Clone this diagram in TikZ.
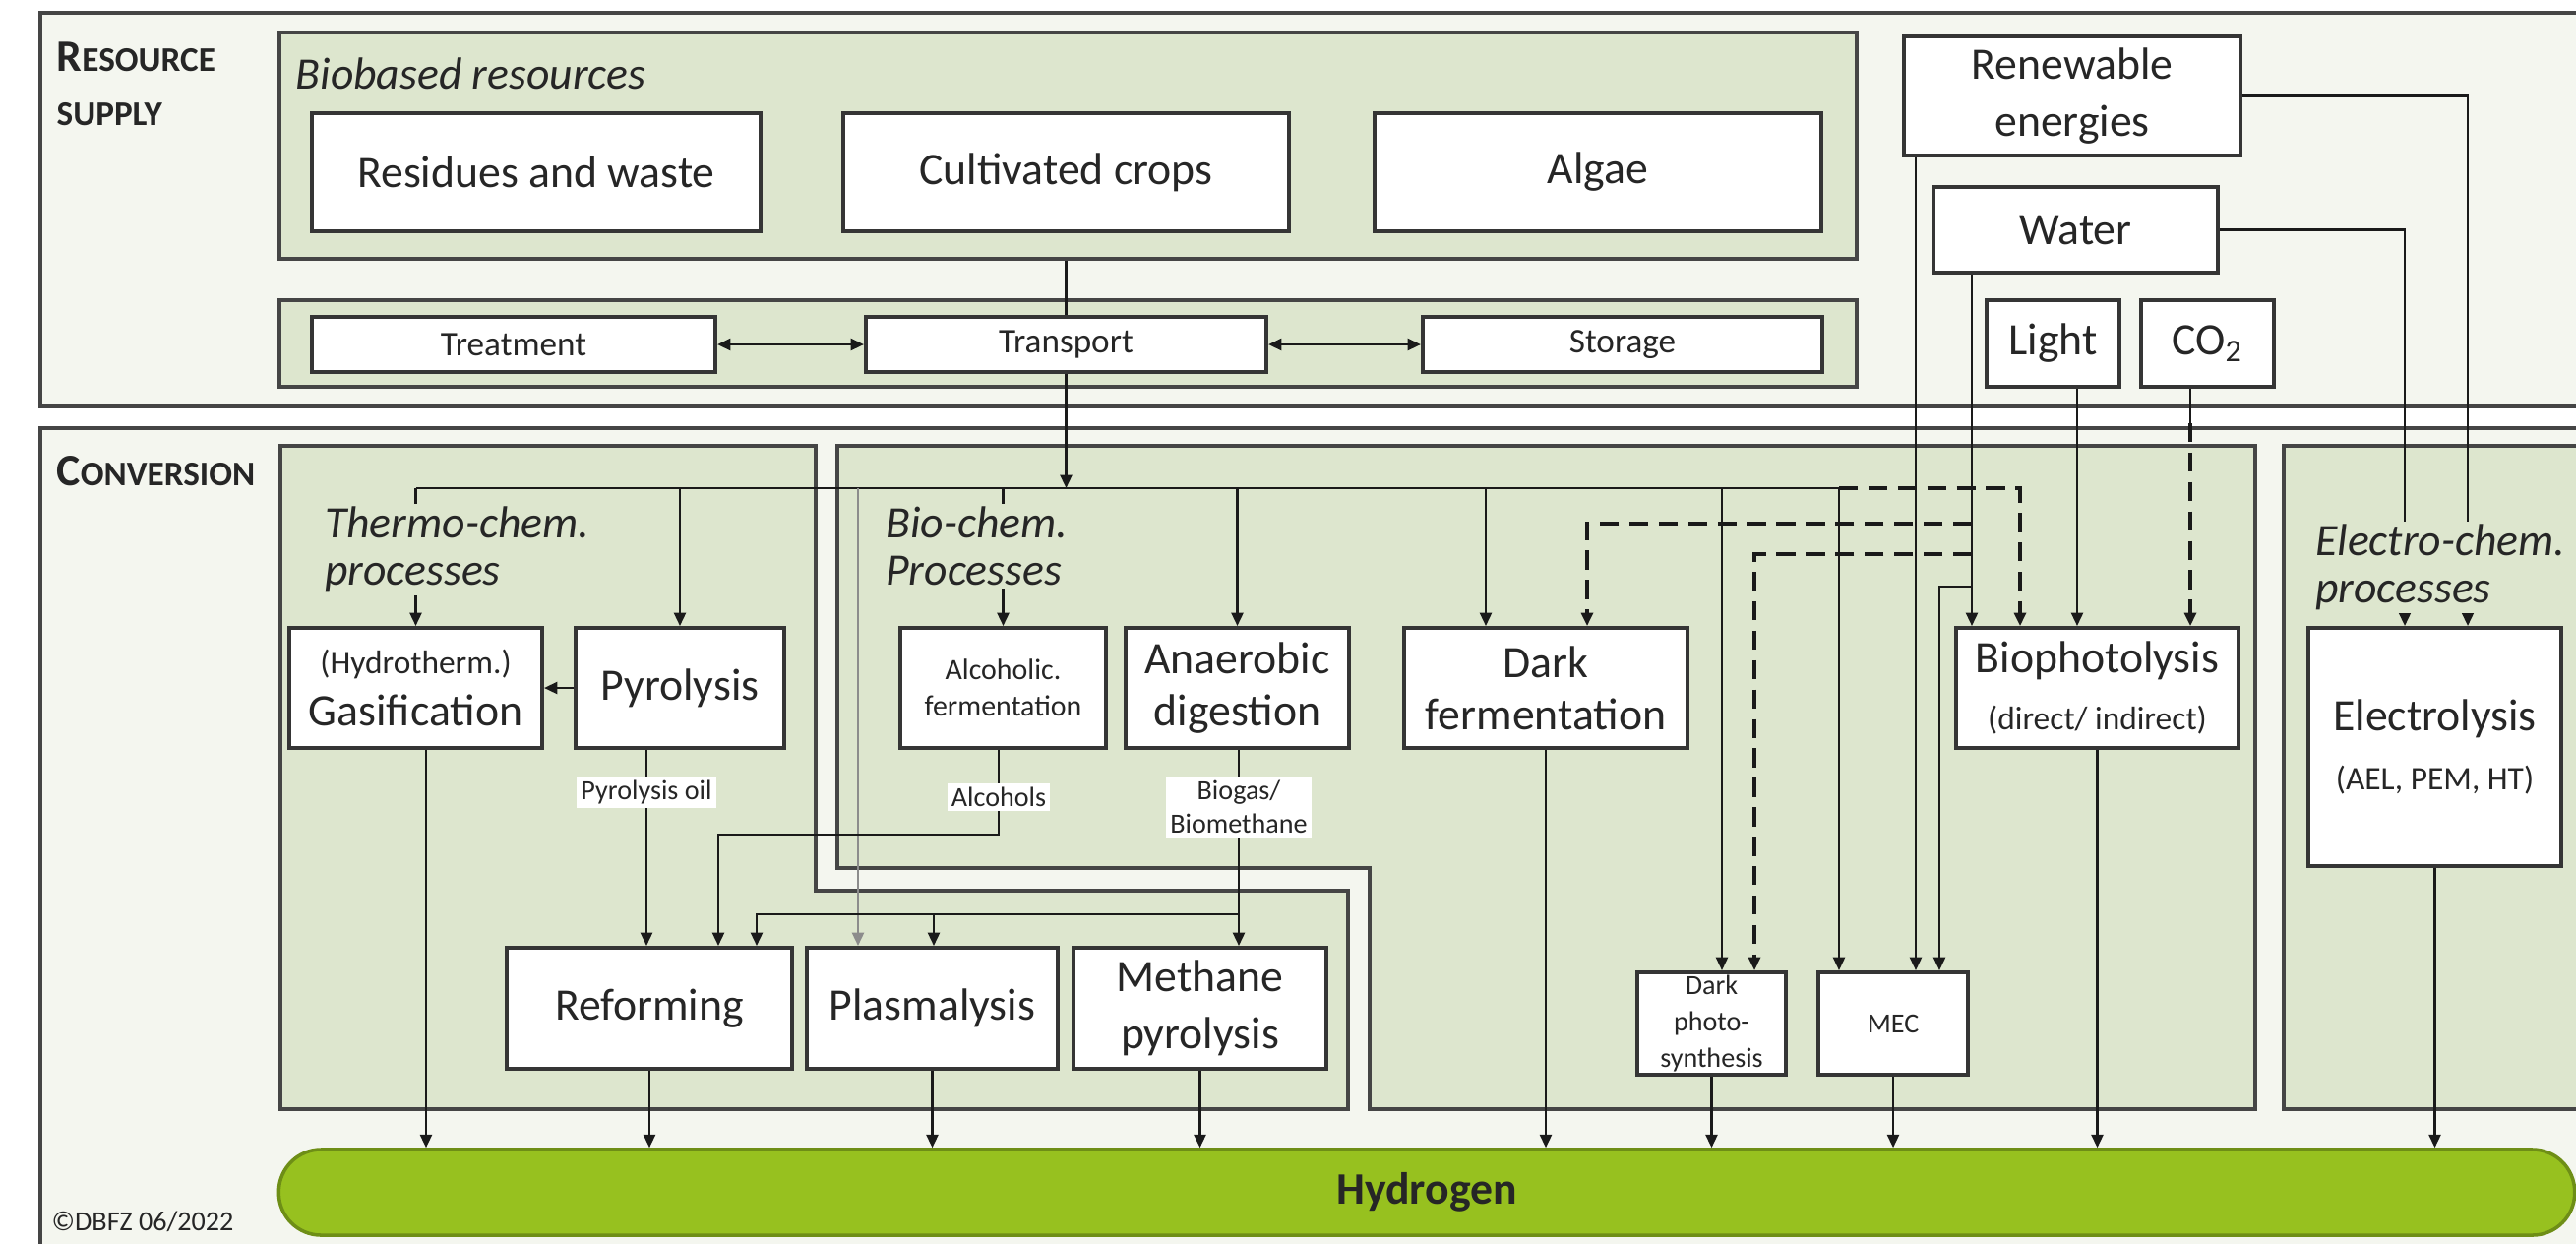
\documentclass[tikz,border=0pt]{standalone}
\usepackage{fontspec}
\setmainfont{Carlito}
\usetikzlibrary{arrows.meta,fit}
\definecolor{grpgreen}{HTML}{DDE6CE}
\definecolor{outerfill}{HTML}{F4F6EF}
\definecolor{boxborder}{HTML}{353535}
\definecolor{grpborder}{HTML}{454545}
\definecolor{linecol}{HTML}{1A1A1A}
\definecolor{graylinecol}{HTML}{8C8C8C}
\definecolor{htwo}{HTML}{97C11F}
\definecolor{htwoborder}{HTML}{6E8E16}
\definecolor{txt}{HTML}{262626}
\newcommand{\fsz}[2]{\fontsize{#1}{#2}\selectfont}
\begin{document}
\begin{tikzpicture}[x=0.01cm, y=-0.01cm, font=\fsz{13}{15}, text=txt,
  box/.style={draw=boxborder, line width=1.1pt, fill=white, inner sep=0pt, align=center, font=\fsz{13}{15}},
  sz/.style 2 args={minimum width=#1cm, minimum height=#2cm},
  grp/.style={draw=grpborder, line width=1pt, fill=grpgreen, inner sep=0pt},
  outerbox/.style={draw=grpborder, line width=1pt, fill=outerfill},
  conn/.style={draw=linecol, line width=0.7pt},
  arr/.style={conn, -{Triangle[length=3.8pt,width=3.4pt]}},
  dbl/.style={conn, {Triangle[length=3.8pt,width=3.4pt]}-{Triangle[length=3.8pt,width=3.4pt]}},
  dsh/.style={line width=0.9pt, dash pattern=on 5.5pt off 3pt},
  lbl/.style={fill=white, inner sep=1.2pt, font=\fsz{8}{9.5}, align=center},
  grplbl/.style={fill=grpgreen, inner sep=1pt, font=\itshape\fsz{13}{13.5}, align=left, anchor=north west},
  head/.style={anchor=base west, inner sep=0pt}]
\clip (0,0) rectangle (2618,1263);
\fill[white] (0,0) rectangle (2618,1263);
% outer frames
\draw[outerbox] (41,13) rectangle (2660,413);
\draw[outerbox] (41,435) rectangle (2660,1300);
% group containers
\node[grp, fit={(284,33)(1887,263)}] (biobased) {};
\node[grp, fit={(284,305)(1887,393)}] (band) {};
\draw[grp] (285,453) -- (829,453) -- (829,905) -- (1370,905) -- (1370,1127) -- (285,1127) -- cycle;
\draw[grp] (851,453) -- (2292,453) -- (2292,1127) -- (1392,1127) -- (1392,882) -- (851,882) -- cycle;
\draw[grp] (2321,453) rectangle (2660,1127);
% headings
\node[head, font=\bfseries] (rsA) at (57,72) {{\fsz{13}{15}R}{\fsz{10}{12}ESOURCE}};
\node[head, font=\bfseries\fsz{10}{12}] (rsB) at (57,127) {SUPPLY};
\node[head, font=\bfseries] (cv) at (57,493) {{\fsz{13}{15}C}{\fsz{10}{12}ONVERSION}};
\node[head, font=\itshape\fsz{13}{15}] (bbl) at (300,90) {Biobased resources};
\node[head, font=\fsz{8}{10}] (copy) at (52,1250) {©DBFZ 06/2022};
% resource boxes
\node[box, sz={4.56}{1.20}] (res) at (545,175) {Residues and waste};
\node[box, sz={4.53}{1.20}] (crops) at (1083.5,175) {Cultivated crops};
\node[box, sz={4.54}{1.20}] (algae) at (1624,175) {Algae};
\node[box, sz={4.10}{0.56}, font=\fsz{10}{12}] (treat) at (522,350) {Treatment};
\node[box, sz={4.07}{0.56}, font=\fsz{10}{12}] (transport) at (1083.5,350) {Transport};
\node[box, sz={4.06}{0.56}, font=\fsz{10}{12}] (storage) at (1649,350) {Storage};
\node[box, sz={3.42}{1.21}, font=\fsz{13}{16.5}] (ren) at (2106,97.5) {Renewable\\energies};
\node[box, sz={2.89}{0.87}] (water) at (2109.5,233.5) {Water};
\node[box, sz={1.35}{0.88}] (light) at (2086.5,349) {Light};
\node[box, sz={1.35}{0.88}] (co2) at (2243.5,349) {CO\textsubscript{2}};
% conversion boxes
\node[box, sz={2.57}{1.22}] (gas) at (422.5,699) {{\fsz{9.5}{11}(Hydrotherm.)}\\Gasification};
\node[box, sz={2.12}{1.22}] (pyro) at (691,699) {Pyrolysis};
\node[box, sz={2.09}{1.22}, font=\fsz{8.5}{10.5}] (alc) at (1019.5,699) {Alcoholic.\\fermentation};
\node[box, sz={2.27}{1.22}] (anaer) at (1257.5,699) {Anaerobic\\digestion};
\node[box, sz={2.88}{1.22}] (dferm) at (1571,699) {Dark\\fermentation};
\node[box, sz={2.87}{1.22}] (bioph) at (2131.5,699) {Biophotolysis\\[1.5pt]{\fsz{9.5}{11}(direct/ indirect)}};
\node[box, sz={2.57}{2.42}] (elec) at (2474.5,759) {Electrolysis\\[2pt]{\fsz{9.5}{11}(AEL, PEM, HT)}};
\node[box, sz={2.90}{1.23}] (reform) at (660,1024.5) {Reforming};
\node[box, sz={2.55}{1.23}] (plasma) at (947.5,1024.5) {Plasmalysis};
\node[box, sz={2.57}{1.23}, font=\fsz{13}{16.5}] (meth) at (1219.5,1024.5) {Methane\\pyrolysis};
\node[box, sz={1.51}{1.04}, font=\fsz{8}{10.5}] (dphoto) at (1739.5,1040) {Dark\\photo-\\synthesis};
\node[box, sz={1.52}{1.04}, font=\fsz{8}{10}] (mec) at (1924,1040) {MEC};
\node[draw=htwoborder, line width=1pt, fill=htwo, rounded corners=0.43cm, inner sep=0pt, sz={23.32}{0.87}, font=\bfseries\fsz{13}{15}, text=black!85] (h2) at (1450,1211.5) {Hydrogen};
% resource connectors
\coordinate (dist) at (1081,496);
\draw[conn] (transport.north |- biobased.south) -- (transport.north);
\draw[arr] (transport.south) -- (transport.south |- dist);
\draw[dbl] (treat.east) -- (transport.west);
\draw[dbl] (transport.east) -- (storage.west);
% distribution line
\coordinate (dL) at (422.5,496);
\coordinate (dR) at (1869,496);
\draw[conn] (dL) -- (dR);
\draw[arr] (dL) -- (gas.north);
\draw[arr] (pyro.north |- dL) -- (pyro.north);
\coordinate (gtop) at (872,496);
\draw[arr, draw=graylinecol] (gtop) -- (gtop |- plasma.north);
\draw[arr] (alc.north |- dL) -- (alc.north);
\draw[arr] (anaer.north |- dL) -- (anaer.north);
\coordinate (dfa) at (1510,496);
\draw[arr] (dfa) -- (dfa |- dferm.north);
\coordinate (dpa) at (1750,496);
\draw[arr] (dpa) -- (dpa |- dphoto.north);
\draw[arr] (dR) -- (dR |- mec.north);
\coordinate (dsr) at (2053,496);
\draw[arr, dsh] (dR) -- (dsr) -- (dsr |- bioph.north);
% water and energy
\coordinate (wv) at (2004,0);
\draw[arr] (wv |- water.south) -- (wv |- bioph.north);
\coordinate (wd1) at (2004,532);
\coordinate (wd1e) at (1613,532);
\draw[arr, dsh] (wd1) -- (wd1e) -- (wd1e |- dferm.north);
\coordinate (wd2) at (2004,563);
\coordinate (wd2e) at (1783,563);
\draw[arr, dsh] (wd2) -- (wd2e) -- (wd2e |- dphoto.north);
\coordinate (ws) at (2004,596);
\coordinate (wse) at (1971,596);
\draw[arr] (ws) -- (wse) -- (wse |- mec.north);
\coordinate (rv) at (1947,0);
\draw[arr] (rv |- ren.south) -- (rv |- mec.north);
\coordinate (rr) at (2508,0);
\draw[arr] (ren.east) -- (rr |- ren.east) -- (rr |- elec.north);
\coordinate (wr) at (2444,0);
\draw[arr] (water.east) -- (wr |- water.east) -- (wr |- elec.north);
\coordinate (lv) at (2111,0);
\draw[arr] (lv |- light.south) -- (lv |- bioph.north);
\coordinate (cv2) at (2226,0);
\coordinate (cv2m) at (2226,430);
\draw[conn] (cv2 |- co2.south) -- (cv2m);
\draw[arr, dsh] (cv2m) -- (cv2 |- bioph.north);
% conversion internal
\draw[arr] (pyro.west) -- (gas.east);
\coordinate (po) at (657,0);
\draw[arr] (po |- pyro.south) -- (po |- reform.north);
\coordinate (al1) at (1015,848);
\coordinate (al2) at (730,848);
\draw[arr] (al1 |- alc.south) -- (al1) -- (al2) -- (al2 |- reform.north);
\coordinate (bg) at (1259,929);
\coordinate (bg2) at (769,929);
\coordinate (bg3) at (949,929);
\draw[arr] (bg |- anaer.south) -- (bg |- meth.north);
\draw[arr] (bg) -- (bg2) -- (bg2 |- reform.north);
\draw[arr] (bg3) -- (bg3 |- plasma.north);
% to hydrogen
\coordinate (g1) at (433,0);
\draw[arr] (g1 |- gas.south) -- (g1 |- h2.north);
\draw[arr] (reform.south) -- (reform.south |- h2.north);
\draw[arr] (plasma.south) -- (plasma.south |- h2.north);
\draw[arr] (meth.south) -- (meth.south |- h2.north);
\draw[arr] (dferm.south) -- (dferm.south |- h2.north);
\draw[arr] (dphoto.south) -- (dphoto.south |- h2.north);
\draw[arr] (mec.south) -- (mec.south |- h2.north);
\draw[arr] (bioph.south) -- (bioph.south |- h2.north);
\draw[arr] (elec.south) -- (elec.south |- h2.north);
% labels on lines
\node[lbl] (polbl) at (657,805) {Pyrolysis oil};
\node[lbl] (alclbl) at (1015,810) {Alcohols};
\node[lbl] (bglbl) at (1259,820) {Biogas/\\Biomethane};
\node[grplbl] (thlbl) at (326,511) {Thermo-chem.\\processes};
\node[grplbl] (bclbl) at (896,511) {Bio-chem.\\Processes};
\node[grplbl] (eclbl) at (2349,529) {Electro-chem.\\processes};
\end{tikzpicture}
\end{document}
